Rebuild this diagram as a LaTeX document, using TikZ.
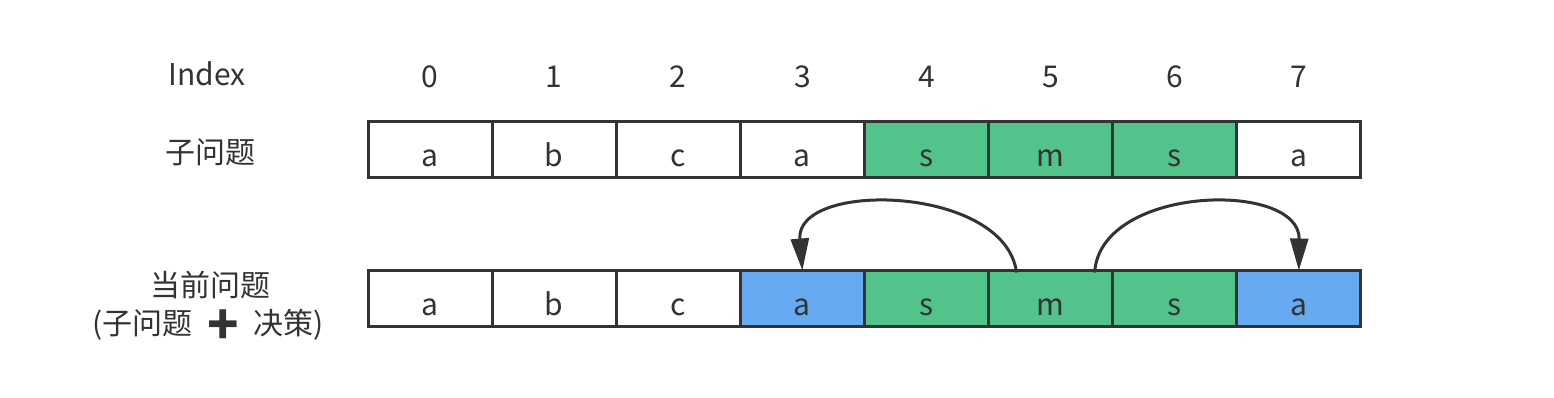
\documentclass[tikz,border=0pt]{standalone}
\usepackage{fontspec}
\setmainfont{Noto Sans CJK SC}
\newfontfamily\emojifont{Noto Emoji}
\usetikzlibrary{arrows.meta,positioning}
\usepackage{xcolor}
\definecolor{lcgreen}{HTML}{52C48B}
\definecolor{lcblue}{HTML}{66ABF1}
\definecolor{lcdark}{HTML}{333333}

\begin{document}
\begin{tikzpicture}[x=1pt, y=-1pt, node distance=0pt, font=\fontsize{30}{34}\selectfont, text=lcdark,
  cell/.style={draw=lcdark, line width=3pt, minimum width=124.1pt, minimum height=56pt, outer sep=0pt, inner sep=0pt, text height=34pt, text depth=0pt}]
  \useasboundingbox (0,0) rectangle (1554,397);

  % sub-problem row
  \node[cell] (s0) at (430.1,149) {a};
  \node[cell, right=of s0] (s1) {b};
  \node[cell, right=of s1] (s2) {c};
  \node[cell, right=of s2] (s3) {a};
  \node[cell, fill=lcgreen, right=of s3] (s4) {s};
  \node[cell, fill=lcgreen, right=of s4] (s5) {m};
  \node[cell, fill=lcgreen, right=of s5] (s6) {s};
  \node[cell, right=of s6] (s7) {a};

  % current-problem row
  \node[cell] (c0) at (430.1,298.5) {a};
  \node[cell, right=of c0] (c1) {b};
  \node[cell, right=of c1] (c2) {c};
  \node[cell, fill=lcblue, right=of c2] (c3) {a};
  \node[cell, fill=lcgreen, right=of c3] (c4) {s};
  \node[cell, fill=lcgreen, right=of c4] (c5) {m};
  \node[cell, fill=lcgreen, right=of c5] (c6) {s};
  \node[cell, fill=lcblue, right=of c6] (c7) {a};

  % index labels
  \node (idx) at (207,74) {Index};
  \node[above=30pt of s0] (i0) {0};
  \node[above=30pt of s1] (i1) {1};
  \node[above=30pt of s2] (i2) {2};
  \node[above=30pt of s3] (i3) {3};
  \node[above=30pt of s4] (i4) {4};
  \node[above=30pt of s5] (i5) {5};
  \node[above=30pt of s6] (i6) {6};
  \node[above=30pt of s7] (i7) {7};

  % row labels
  \node (sub) at (210,152) {子问题};
  \node (cur) at (210,285) {当前问题};
  \node (curdec) at (208,325) {(子问题\, {\emojifont ➕}\, 决策)};

  % arcs
  \draw[lcdark, line width=3pt, -{Triangle[length=32pt, width=18pt]}]
    ([xshift=28pt, yshift=-2pt]c5.north west) .. controls (1005,185) and (795,180) .. (c3.north);
  \draw[lcdark, line width=3pt, -{Triangle[length=32pt, width=18pt]}]
    ([xshift=-18pt, yshift=-2pt]c5.north east) .. controls (1100,185) and (1300,180) .. (c7.north);
\end{tikzpicture}
\end{document}
